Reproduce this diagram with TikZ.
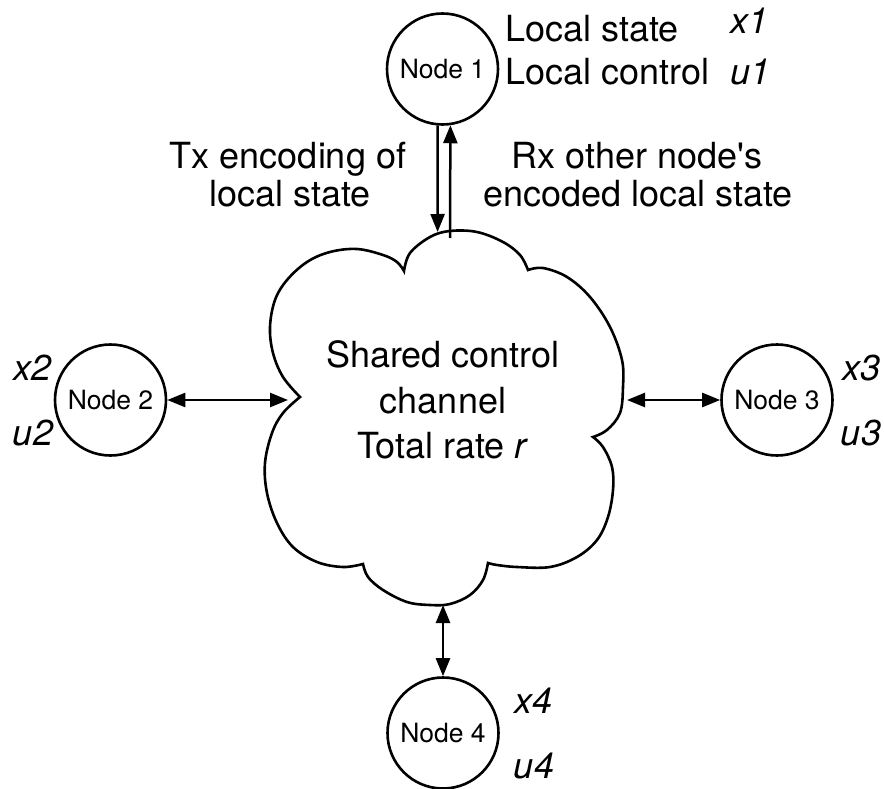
\documentclass[tikz,border=0pt]{standalone}
\usepackage{fontspec}
\setmainfont{TeX Gyre Heros}
\newfontfamily\rawfont{TeX Gyre Heros}
\usetikzlibrary{arrows.meta}
\begin{document}
\begin{tikzpicture}[x=1pt,y=-1pt,
  nodecirc/.style={circle,draw,line width=2.6pt,minimum size=111pt,inner sep=0pt,font=\fontsize{26.5}{30}\selectfont},
  lbl/.style={inner sep=0pt,font=\fontsize{36}{43}\selectfont},
  var/.style={inner sep=0pt,font=\fontsize{36}{43}\selectfont\itshape},
  arr/.style={line width=2.5pt,-{Triangle[length=18pt,width=14pt]}},
  darr/.style={line width=2.5pt,{Triangle[length=18pt,width=14pt]}-{Triangle[length=18pt,width=14pt]}},
  cloudline/.style={line width=2.6pt,line join=miter}]
\useasboundingbox (0,0) rectangle (884,789);

% cloud
\draw[cloudline]
  plot[smooth,tension=0.6] coordinates {(404,271) (410,253) (430,237) (450,231) (477,232) (503,242) (520,255) (528,270)}
  -- plot[smooth,tension=0.6] coordinates {(528,270) (543,268) (567,277) (590,297) (610,327) (622,360) (623,387) (620,413) (607,430) (593,437)}
  -- plot[smooth,tension=0.6] coordinates {(593,437) (603,447) (612,467) (613,490) (608,517) (597,540) (577,557) (550,567) (517,567) (497,565) (488,563)}
  -- plot[smooth,tension=0.6] coordinates {(488,563) (483,580) (470,595) (450,604) (430,605) (407,602) (383,590) (368,577) (363,564)}
  -- plot[smooth,tension=0.6] coordinates {(363,564) (343,567) (317,562) (293,547) (277,523) (267,493) (265,463) (272,433) (283,413) (300,397)}
  -- plot[smooth,tension=0.6] coordinates {(300,397) (283,377) (273,353) (270,327) (275,300) (287,280) (307,262) (330,252) (357,249) (383,255) (397,262) (404,271)}
  -- cycle;

\node[lbl,anchor=base] (c1) at (443,367) {Shared control};
\node[lbl,anchor=base] (c2) at (443,413) {channel};
\node[lbl,anchor=base] (c3) at (443,458) {Total rate \textit{r}};

\coordinate (cT1) at (437.6,232);
\coordinate (cT2) at (450,238);
\coordinate (cL) at (288,400);
\coordinate (cR) at (627,400);
\coordinate (cB) at (443,605);

% nodes
\node[nodecirc] (n1) at (442.5,69) {Node 1};
\node[nodecirc] (n2) at (110.5,400) {Node 2};
\node[nodecirc] (n3) at (777,400) {Node 3};
\node[nodecirc] (n4) at (443,733) {Node 4};

% connectors
\draw[arr] (n1.265) -- (cT1);
\draw[arr] (cT2) -- (n1.278);
\draw[darr] (n2) -- (cL);
\draw[darr] (cR) -- (n3);
\draw[darr] (cB) -- (n4);

% labels near node 1
\node[lbl,anchor=base west] (ls) at (505,42) {Local state};
\node[lbl,anchor=base west] (lc) at (505,85) {Local control};
\node[var,anchor=base west] (x1) at (730,34) {x1};
\node[var,anchor=base west] (u1) at (730,85) {u1};

\node[lbl,anchor=base] (tx1) at (288,169) {Tx encoding of};
\node[lbl,anchor=base] (tx2) at (290,206) {local state};
\node[lbl,anchor=base] (rx1) at (637,169) {Rx other node{\rawfont '}s};
\node[lbl,anchor=base] (rx2) at (638,206) {encoded local state};

\node[var,anchor=base] (x2) at (33,380) {x2};
\node[var,anchor=base] (u2) at (33,445) {u2};
\node[var,anchor=base] (x3) at (861,380) {x3};
\node[var,anchor=base] (u3) at (861,445) {u3};
\node[var,anchor=base] (x4) at (534,713) {x4};
\node[var,anchor=base] (u4) at (534,778) {u4};
\end{tikzpicture}
\end{document}
